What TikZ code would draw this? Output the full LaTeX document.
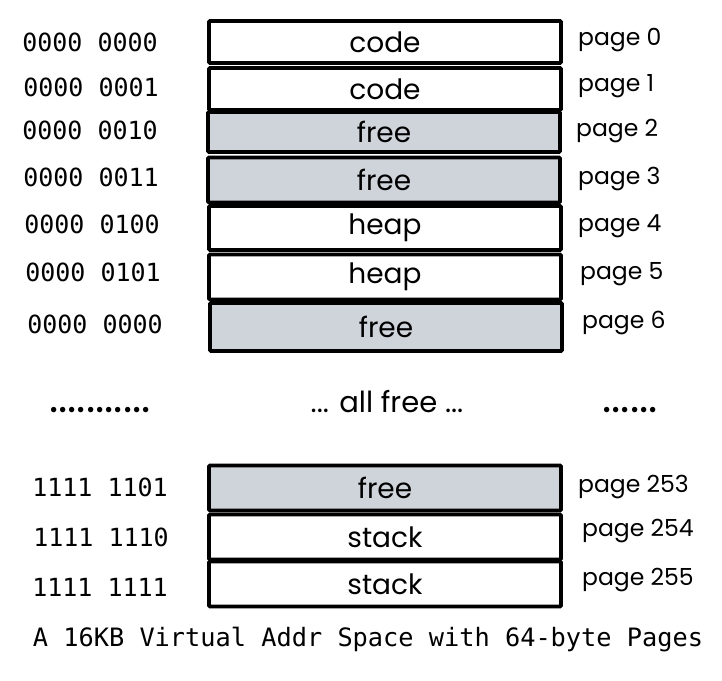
\documentclass[tikz,border=0pt]{standalone}
\usepackage{fontspec}
\setmainfont{Poppins}
\newfontfamily\addrfont{DejaVu Sans Mono}
\newfontfamily\handfont{Poppins}
\definecolor{freegray}{HTML}{CED4DA}
\begin{document}
\begin{tikzpicture}[x=1pt,y=-1pt,
  pagebox/.style={draw=black,line width=3.6pt,rounded corners=1pt,minimum width=352pt,inner sep=0pt,font=\handfont\fontsize{28}{28}\selectfont},
  usedbox/.style={pagebox,fill=white},
  freebox/.style={pagebox,fill=freegray},
  addr/.style={font=\addrfont\fontsize{25}{25}\selectfont,inner sep=0pt},
  caption/.style={font=\addrfont\fontsize{25.3}{25}\selectfont,inner sep=0pt},
  pagelbl/.style={anchor=west,font=\handfont\fontsize{23.5}{24}\selectfont,inner sep=0pt},
  dots/.style={font=\handfont\fontsize{29}{29}\selectfont,inner sep=0pt},
  bigdots/.style={font=\handfont\fontsize{44}{44}\selectfont,inner sep=0pt}]
\useasboundingbox (0,0) rectangle (722,680);
% boxes: center x = 385
\node[usedbox,minimum height=42pt] (b0) at (385,42) {code};
\node[usedbox,minimum height=42pt] (b1) at (385,89) {code};
\node[freebox,minimum height=40pt] (b2) at (384,132) {free};
\node[freebox,minimum height=45pt] (b3) at (384,180) {free};
\node[usedbox,minimum height=44pt] (b4) at (385,228) {heap};
\node[usedbox,minimum height=45pt] (b5) at (385,277) {heap};
\node[freebox,minimum height=48pt] (b6) at (386,327) {free};
\node[freebox,minimum height=45pt] (b253) at (385,488) {free};
\node[usedbox,minimum height=45pt] (b254) at (385,537) {stack};
\node[usedbox,minimum height=45pt] (b255) at (385,584) {stack};
% addresses
\node[addr] (a0) at (90,42) {0000 0000};
\node[addr] (a1) at (91,87) {0000 0001};
\node[addr] (a2) at (90,130) {0000 0010};
\node[addr] (a3) at (91,177) {0000 0011};
\node[addr] (a4) at (92,224) {0000 0100};
\node[addr] (a5) at (93,272) {0000 0101};
\node[addr] (a6) at (95,324) {0000 0000};
\node[addr] (a253) at (100,487) {1111 1101};
\node[addr] (a254) at (101,537) {1111 1110};
\node[addr] (a255) at (100,587) {1111 1111};
% page labels
\node[pagelbl] (p0) at (578,40) {page 0};
\node[pagelbl] (p1) at (578,86) {page 1};
\node[pagelbl] (p2) at (576,131) {page 2};
\node[pagelbl] (p3) at (578,179) {page 3};
\node[pagelbl] (p4) at (578,226) {page 4};
\node[pagelbl] (p5) at (580,274) {page 5};
\node[pagelbl] (p6) at (582,323) {page 6};
\node[pagelbl] (p253) at (578,487) {page 253};
\node[pagelbl] (p254) at (582,531) {page 254};
\node[pagelbl] (p255) at (582,580) {page 255};
% ellipsis row
\node[bigdots,anchor=base] (d1) at (100,412) {...........};
\node[dots,anchor=base] (d2) at (387,412) {... all free ...};
\node[bigdots,anchor=base] (d3) at (630,412) {......};
% caption
\node[caption] (cap) at (368,640) {A 16KB Virtual Addr Space with 64-byte Pages};
\end{tikzpicture}
\end{document}
